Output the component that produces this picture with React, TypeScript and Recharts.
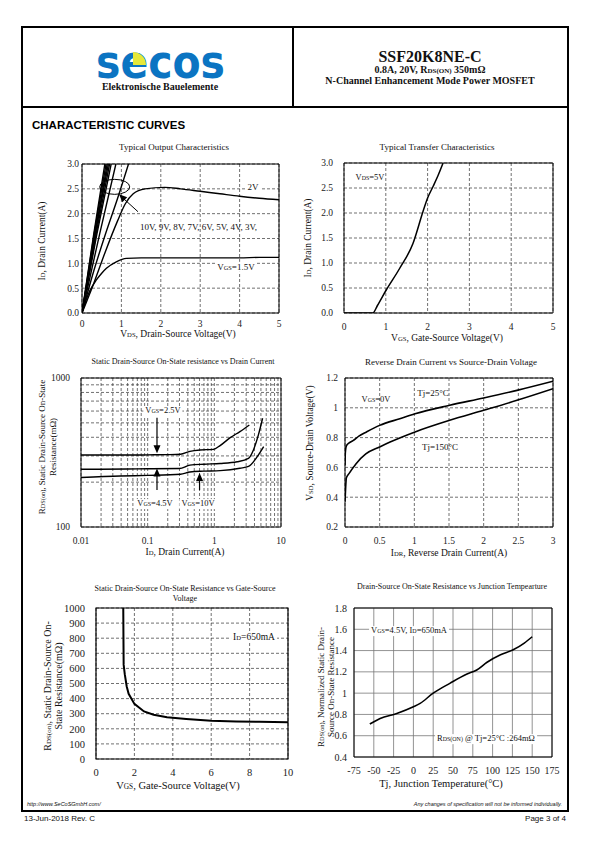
import React from "react";
import {
  LineChart,
  Line,
  XAxis,
  YAxis,
  CartesianGrid,
  ReferenceArea,
  ReferenceLine,
  ReferenceDot,
} from "recharts";

const SERIF = '"Liberation Serif", "Times New Roman", serif';
const SANS = '"Liberation Sans", Arial, sans-serif';

// ---------- Typical Output Characteristics  [Vds (V), Id (A)] ----------
const outVgs10 = [[0, 0], [0.3, 1.6], [0.58, 3.0]];
const outVgs9 = [[0, 0], [0.31, 1.6], [0.61, 3.0]];
const outVgs8 = [[0, 0], [0.33, 1.6], [0.64, 3.0]];
const outVgs7 = [[0, 0], [0.34, 1.6], [0.67, 3.0]];
const outVgs6 = [[0, 0], [0.36, 1.6], [0.7, 3.0]];
const outVgs5 = [[0, 0], [0.38, 1.6], [0.74, 3.0]];
const outVgs4 = [[0, 0], [0.45, 1.6], [0.86, 3.0]];
const outVgs3 = [[0, 0], [0.3, 0.85], [0.6, 1.6], [0.9, 2.3], [1.18, 3.0]];
const outVgs2 = [
  [0, 0], [0.3, 0.6], [0.6, 1.25], [0.9, 1.85], [1.1, 2.2], [1.3, 2.4],
  [1.6, 2.5], [2.1, 2.53], [2.5, 2.5], [3, 2.45], [3.5, 2.4], [4, 2.35],
  [4.5, 2.31], [5, 2.28],
];
const outVgs15 = [
  [0, 0], [0.1, 0.25], [0.2, 0.45], [0.36, 0.66], [0.5, 0.8], [0.62, 0.9],
  [0.87, 1.03], [1.13, 1.1], [1.5, 1.11], [2, 1.11], [3, 1.11], [4, 1.11],
  [4.5, 1.12], [5, 1.12],
];
const outVdsTicks = [0, 1, 2, 3, 4, 5];
const outIdTicks = [0, 0.5, 1, 1.5, 2, 2.5, 3];

// ---------- Typical Transfer Characteristics  [Vgs (V), Id (A)] ----------
const transfer = [
  [0, 0], [0.5, 0], [0.69, 0], [0.8, 0.15], [1.01, 0.46], [1.33, 0.89],
  [1.65, 1.39], [1.89, 2.03], [2.0, 2.3], [2.13, 2.53], [2.25, 2.75], [2.37, 3.0],
];
const trVgsTicks = [0, 1, 2, 3, 4, 5];
const trIdTicks = [0, 0.5, 1, 1.5, 2, 2.5, 3];

// ---------- Rds(on) vs Drain Current  [Id (A), Rds (mOhm)] ----------
const rdsId25 = [
  [0.01, 304], [0.05, 304], [0.1, 305], [0.2, 306], [0.31, 308], [0.43, 322],
  [0.61, 329], [0.97, 332], [1.22, 352], [1.73, 398], [2.42, 437], [3.35, 484],
];
const rdsId45 = [
  [0.01, 244], [0.05, 245], [0.1, 246], [0.3, 247], [0.43, 260], [0.7, 264],
  [1.22, 267], [2.2, 274], [3.25, 289], [3.86, 329], [4.58, 415], [5.3, 537],
];
const rdsId10 = [
  [0.01, 215], [0.039, 220], [0.1, 222], [0.31, 226], [0.43, 234], [0.7, 237],
  [1.22, 239], [2.42, 248], [3.26, 255], [4.3, 292], [5.5, 346],
];
const logIdTicks = [
  0.01, 0.02, 0.03, 0.04, 0.05, 0.06, 0.07, 0.08, 0.09,
  0.1, 0.2, 0.3, 0.4, 0.5, 0.6, 0.7, 0.8, 0.9,
  1, 2, 3, 4, 5, 6, 7, 8, 9, 10,
];
const logIdLabels = [0.01, 0.1, 1, 10];
const logRdsTicks = [100, 200, 300, 400, 500, 600, 700, 800, 900, 1000];
const logRdsLabels = [100, 1000];

// ---------- Reverse Drain Current vs Vsd  [Idr (A), Vsd (V)] ----------
const vsd25 = [
  [0, 0.614], [0.005, 0.7], [0.02, 0.745], [0.06, 0.765], [0.116, 0.78],
  [0.2, 0.81], [0.31, 0.838], [0.5, 0.882], [0.79, 0.927], [1.01, 0.96],
  [1.51, 1.017], [2.0, 1.066], [2.48, 1.117], [3, 1.178],
];
const vsd150 = [
  [0, 0.37], [0.01, 0.47], [0.02, 0.53], [0.06, 0.56], [0.16, 0.625],
  [0.3, 0.69], [0.5, 0.737], [0.65, 0.77], [1.01, 0.838], [1.51, 0.916],
  [2, 0.983], [2.48, 1.05], [3, 1.128],
];
const idrTicks = [0, 0.5, 1, 1.5, 2, 2.5, 3];
const vsdTicks = [0.2, 0.4, 0.6, 0.8, 1, 1.2];

// ---------- Rds(on) vs Vgs  [Vgs (V), Rds (mOhm)] ----------
const rdsVgs = [
  [1.42, 1000], [1.43, 800], [1.44, 625], [1.5, 560], [1.6, 480], [1.7, 432],
  [2.0, 365], [2.5, 315], [3, 293], [3.7, 276], [4.7, 265], [6, 254],
  [7.3, 249], [8.5, 246], [10, 244],
];
const vgsTicks = [0, 2, 4, 6, 8, 10];
const rdsTicks = [0, 100, 200, 300, 400, 500, 600, 700, 800, 900, 1000];

// ---------- Normalized Rds(on) vs Tj  [Tj (C), Rds norm] ----------
const rdsTj = [
  [-55, 0.71], [-42, 0.762], [-21, 0.809], [0, 0.872], [8.5, 0.904],
  [25, 1.0], [46, 1.092], [67, 1.177], [80, 1.218], [93, 1.29],
  [110, 1.36], [126, 1.407], [140, 1.47], [150, 1.53],
];
const tjTicks = [-75, -50, -25, 0, 25, 50, 75, 100, 125, 150, 175];
const normTicks = [0.4, 0.6, 0.8, 1, 1.2, 1.4, 1.6, 1.8];

const pts = (a: number[][]) => a.map(([x, y]) => ({ x, y }));
const tk = (s: number) => ({ fontSize: s, fill: "#222", fontFamily: SERIF });

// filled arrow head, tip at (cx, cy), pointing along `angle` (deg, screen coords)
const arrowHead = (angle: number, len = 8, half = 3.5) => (p: any) => {
  const a = (angle * Math.PI) / 180;
  const poly = [[0, 0], [-len, -half], [-len, half]]
    .map(([px, py]) => [
      p.cx + px * Math.cos(a) - py * Math.sin(a),
      p.cy + px * Math.sin(a) + py * Math.cos(a),
    ])
    .map((q) => q.join(","))
    .join(" ");
  return <polygon points={poly} fill="#000" />;
};

const PAD_L = 60;
const PAD_T = 10;
const PAD_R = 10;
const PAD_B = 30;

function Panel({ x, y, w, h, children }: any) {
  return (
    <div style={{ position: "absolute", left: x - PAD_L, top: y - PAD_T }}>
      <LineChart
        width={w + PAD_L + PAD_R}
        height={h + PAD_T + PAD_B}
        margin={{ top: PAD_T, right: PAD_R, left: 0, bottom: 0 }}
      >
        {children}
      </LineChart>
    </div>
  );
}

function Txt({ x, y, size = 9, anchor = "middle", rotate = 0, bold, italic, bg, family = SERIF, color = "#111", children }: any) {
  const tx = anchor === "middle" ? "-50%" : anchor === "end" ? "-100%" : "0";
  return (
    <div
      style={{
        position: "absolute",
        left: x,
        top: y,
        transform: `translate(${tx},-50%)${rotate ? ` rotate(${rotate}deg)` : ""}`,
        whiteSpace: "nowrap",
        fontSize: size,
        lineHeight: 1.15,
        fontFamily: family,
        fontWeight: bold ? 700 : 400,
        fontStyle: italic ? "italic" : "normal",
        background: bg ? "#fff" : "transparent",
        padding: bg ? "0 2px" : 0,
        color,
      }}
    >
      {children}
    </div>
  );
}

const Sub = ({ children }: any) => <span style={{ fontSize: "0.7em" }}>{children}</span>;

const lineProps = {
  type: "monotone" as const,
  dataKey: "y",
  stroke: "#000",
  dot: false,
  isAnimationActive: false,
};

const outSeries = [outVgs10, outVgs9, outVgs8, outVgs7, outVgs6, outVgs5, outVgs4, outVgs3, outVgs2, outVgs15];

export default function App() {
  return (
    <div
      style={{
        position: "absolute",
        left: 0,
        top: 0,
        width: 595,
        height: 842,
        background: "#fff",
        fontFamily: SERIF,
        color: "#111",
      }}
    >
      {/* page frame */}
      <div style={{ position: "absolute", left: 21, top: 26, width: 548, height: 786, border: "2px solid #000", boxSizing: "border-box" }} />
      <div style={{ position: "absolute", left: 21, top: 106, width: 548, height: 2, background: "#000" }} />
      <div style={{ position: "absolute", left: 292, top: 26, width: 2, height: 81, background: "#000" }} />

      {/* logo */}
      <svg style={{ position: "absolute", left: 90, top: 29, overflow: "visible" }} width={145} height={50}>
        <text x={6} y={49} fontFamily='"DejaVu Sans", sans-serif' fontWeight={700} fontSize={47} fill="#0b74c2" textLength={129} lengthAdjust="spacingAndGlyphs">
          secos
        </text>
        <path d="M43 36 L43 23 A13 13 0 0 1 56 36 Z" fill="#e6e83a" />
      </svg>
      <Txt x={160} y={87} size={10} bold>Elektronische Bauelemente</Txt>

      <Txt x={430} y={57} size={16} bold>SSF20K8NE-C</Txt>
      <Txt x={430} y={70} size={10} bold>
        0.8A, 20V, R<Sub>DS(ON)</Sub> 350mΩ
      </Txt>
      <Txt x={430} y={81} size={10} bold>N-Channel Enhancement Mode Power MOSFET</Txt>

      <Txt x={32} y={126} size={11.5} bold anchor="start" family={SANS} color="#000">
        CHARACTERISTIC CURVES
      </Txt>

      {/* ---------- chart 1 ---------- */}
      <Panel x={82} y={164} w={197} h={149}>
        <CartesianGrid stroke="#333" strokeDasharray="3 2" strokeWidth={0.7} />
        <XAxis type="number" dataKey="x" domain={[0, 5]} ticks={outVdsTicks} allowDataOverflow height={PAD_B}
          tickLine={false} axisLine={false} tickSize={0} tickMargin={7} tick={tk(9.5)} />
        <YAxis type="number" dataKey="y" domain={[0, 3]} ticks={outIdTicks} allowDataOverflow width={PAD_L}
          tickLine={false} axisLine={false} tickSize={0} tickMargin={3} tick={tk(9.5)}
          tickFormatter={(v: number) => v.toFixed(1)} />
        <ReferenceArea x1={0} x2={5} y1={0} y2={3} fill="none" stroke="#000" strokeWidth={1} ifOverflow="visible" />
        {outSeries.map((s, i) => (
          <Line key={i} {...lineProps} data={pts(s)} strokeWidth={1.4} />
        ))}
        <ReferenceDot x={0.83} y={2.54} r={1} ifOverflow="visible"
          shape={(p: any) => <ellipse cx={p.cx} cy={p.cy} rx={15} ry={7.5} fill="none" stroke="#000" strokeWidth={1} />} />
        <ReferenceLine segment={[{ x: 1.42, y: 2.04 }, { x: 0.99, y: 2.35 }]} stroke="#000" strokeWidth={1} />
        <ReferenceDot x={0.94} y={2.39} r={1} ifOverflow="visible" shape={arrowHead(-136)} />
      </Panel>
      <Txt x={174} y={147} size={9}>Typical Output Characteristics</Txt>
      <Txt x={178} y={334} size={9.5}>V<Sub>DS</Sub>, Drain-Source Voltage(V)</Txt>
      <Txt x={42} y={241} size={9.5} rotate={-90}>I<Sub>D</Sub>, Drain Current(A)</Txt>
      <Txt x={253} y={187} size={9} bg>2V</Txt>
      <Txt x={140} y={227} size={9} anchor="start">10V, 9V, 8V, 7V, 6V, 5V, 4V, 3V,</Txt>
      <Txt x={236} y={267} size={9} bg>V<Sub>GS</Sub>=1.5V</Txt>

      {/* ---------- chart 2 ---------- */}
      <Panel x={344} y={163} w={209} h={150}>
        <CartesianGrid stroke="#333" strokeDasharray="3 2" strokeWidth={0.7} />
        <XAxis type="number" dataKey="x" domain={[0, 5]} ticks={trVgsTicks} allowDataOverflow height={PAD_B}
          tickLine={false} axisLine={false} tickSize={0} tickMargin={10} tick={tk(9.5)} />
        <YAxis type="number" dataKey="y" domain={[0, 3]} ticks={trIdTicks} allowDataOverflow width={PAD_L}
          tickLine={false} axisLine={false} tickSize={0} tickMargin={11} tick={tk(9.5)}
          tickFormatter={(v: number) => v.toFixed(1)} />
        <ReferenceArea x1={0} x2={5} y1={0} y2={3} fill="none" stroke="#000" strokeWidth={1} ifOverflow="visible" />
        <Line {...lineProps} data={pts(transfer)} strokeWidth={1.5} />
      </Panel>
      <Txt x={437} y={147} size={9}>Typical Transfer Characteristics</Txt>
      <Txt x={447} y={338} size={9.5}>V<Sub>GS</Sub>, Gate-Source Voltage(V)</Txt>
      <Txt x={308} y={238} size={9.5} rotate={-90}>I<Sub>D</Sub>, Drain Current(A)</Txt>
      <Txt x={370} y={178} size={8.5}>V<Sub>DS</Sub>=5V</Txt>

      {/* ---------- chart 3 ---------- */}
      <Panel x={81} y={378} w={200} h={149}>
        <CartesianGrid stroke="#333" strokeDasharray="3 2" strokeWidth={0.7} />
        <XAxis type="number" dataKey="x" scale="log" domain={[0.01, 10]} ticks={logIdTicks} allowDataOverflow height={PAD_B}
          tickLine={false} axisLine={false} tickSize={0} tickMargin={10.5} tick={tk(9.5)} interval={0}
          tickFormatter={(v: number) => (logIdLabels.includes(v) ? String(v) : "")} />
        <YAxis type="number" dataKey="y" scale="log" domain={[100, 1000]} ticks={logRdsTicks} allowDataOverflow width={PAD_L}
          tickLine={false} axisLine={false} tickSize={0} tickMargin={11} tick={tk(9.5)} interval={0}
          tickFormatter={(v: number) => (logRdsLabels.includes(v) ? String(v) : "")} />
        <ReferenceArea x1={0.01} x2={10} y1={100} y2={1000} fill="none" stroke="#000" strokeWidth={1} ifOverflow="visible" />
        <Line {...lineProps} data={pts(rdsId25)} strokeWidth={1.4} />
        <Line {...lineProps} data={pts(rdsId45)} strokeWidth={1.4} />
        <Line {...lineProps} data={pts(rdsId10)} strokeWidth={1.4} />
        <ReferenceLine segment={[{ x: 0.138, y: 540 }, { x: 0.138, y: 345 }]} stroke="#000" strokeWidth={1.2} />
        <ReferenceDot x={0.138} y={312} r={1} ifOverflow="visible" shape={arrowHead(90)} />
        <ReferenceLine segment={[{ x: 0.138, y: 177 }, { x: 0.138, y: 222 }]} stroke="#000" strokeWidth={1.2} />
        <ReferenceDot x={0.138} y={247} r={1} ifOverflow="visible" shape={arrowHead(-90)} />
        <ReferenceLine segment={[{ x: 0.6, y: 177 }, { x: 0.6, y: 208 }]} stroke="#000" strokeWidth={1.2} />
        <ReferenceDot x={0.6} y={230} r={1} ifOverflow="visible" shape={arrowHead(-90)} />
      </Panel>
      <Txt x={183} y={362} size={8}>Static Drain-Source On-State resistance vs Drain Current</Txt>
      <Txt x={185} y={552} size={9.5}>I<Sub>D</Sub>, Drain Current(A)</Txt>
      <Txt x={42} y={447} size={9} rotate={-90}>R<Sub>DS(on)</Sub>, Static Drain-Source On-State</Txt>
      <Txt x={53} y={447} size={9} rotate={-90}>Resistance(mΩ)</Txt>
      <Txt x={163} y={411} size={8.5} bg>V<Sub>GS</Sub>=2.5V</Txt>
      <Txt x={155} y={504} size={8.5} bg>V<Sub>GS</Sub>=4.5V</Txt>
      <Txt x={198} y={504} size={8.5} bg>V<Sub>GS</Sub>=10V</Txt>

      {/* ---------- chart 4 ---------- */}
      <Panel x={345} y={378} w={208} h={149}>
        <CartesianGrid stroke="#333" strokeDasharray="3 2" strokeWidth={0.7} />
        <XAxis type="number" dataKey="x" domain={[0, 3]} ticks={idrTicks} allowDataOverflow height={PAD_B}
          tickLine={false} axisLine={false} tickSize={0} tickMargin={10.5} tick={tk(9.5)} />
        <YAxis type="number" dataKey="y" domain={[0.2, 1.2]} ticks={vsdTicks} allowDataOverflow width={PAD_L}
          tickLine={false} axisLine={false} tickSize={0} tickMargin={7} tick={tk(9.5)} />
        <ReferenceArea x1={0} x2={3} y1={0.2} y2={1.2} fill="none" stroke="#000" strokeWidth={1} ifOverflow="visible" />
        <Line {...lineProps} data={pts(vsd25)} strokeWidth={1.6} />
        <Line {...lineProps} data={pts(vsd150)} strokeWidth={1.6} />
      </Panel>
      <Txt x={451} y={362} size={9}>Reverse Drain Current vs Source-Drain Voltage</Txt>
      <Txt x={449} y={553} size={9.5}>I<Sub>DR</Sub>, Reverse Drain Current(A)</Txt>
      <Txt x={310} y={443} size={9.5} rotate={-90}>V<Sub>SD</Sub>, Source-Drain Voltage(V)</Txt>
      <Txt x={376} y={400} size={8.5}>V<Sub>GS</Sub>=0V</Txt>
      <Txt x={433} y={393} size={9}>Tj=25°C</Txt>
      <Txt x={440} y={447} size={9}>Tj=150°C</Txt>

      {/* ---------- chart 5 ---------- */}
      <Panel x={96} y={608} w={192} h={151}>
        <CartesianGrid stroke="#333" strokeDasharray="3 2" strokeWidth={0.7} />
        <XAxis type="number" dataKey="x" domain={[0, 10]} ticks={vgsTicks} allowDataOverflow height={PAD_B}
          tickLine={false} axisLine={false} tickSize={0} tickMargin={9.5} tick={tk(10.5)} />
        <YAxis type="number" dataKey="y" domain={[0, 1000]} ticks={rdsTicks} allowDataOverflow width={PAD_L}
          tickLine={false} axisLine={false} tickSize={0} tickMargin={11} tick={tk(10.5)} interval={0} />
        <ReferenceArea x1={0} x2={10} y1={0} y2={1000} fill="none" stroke="#000" strokeWidth={1.2} ifOverflow="visible" />
        <Line {...lineProps} type="linear" data={pts(rdsVgs)} strokeWidth={2} />
      </Panel>
      <Txt x={185} y={589} size={8}>Static Drain-Source On-State Resistance vs Gate-Source</Txt>
      <Txt x={185} y={599} size={8}>Voltage</Txt>
      <Txt x={178} y={786} size={10.5}>V<Sub>GS</Sub>, Gate-Source Voltage(V)</Txt>
      <Txt x={48} y={686} size={10} rotate={-90}>R<Sub>DS(on)</Sub>, Static Drain-Source On-</Txt>
      <Txt x={59} y={686} size={10} rotate={-90}>State Resistance(mΩ)</Txt>
      <Txt x={254} y={637} size={9.5} bg>I<Sub>D</Sub>=650mA</Txt>

      {/* ---------- chart 6 ---------- */}
      <Panel x={354} y={608} w={198} h={149}>
        <CartesianGrid stroke="#777" strokeWidth={0.8} />
        <XAxis type="number" dataKey="x" domain={[-75, 175]} ticks={tjTicks} allowDataOverflow height={PAD_B}
          tickLine={false} axisLine={false} tickSize={0} tickMargin={9.5} tick={tk(10)} interval={0} />
        <YAxis type="number" dataKey="y" domain={[0.4, 1.8]} ticks={normTicks} allowDataOverflow width={PAD_L}
          tickLine={false} axisLine={false} tickSize={0} tickMargin={7} tick={tk(10)} interval={0} />
        <ReferenceArea x1={-75} x2={175} y1={0.4} y2={1.8} fill="none" stroke="#000" strokeWidth={1} ifOverflow="visible" />
        <Line {...lineProps} data={pts(rdsTj)} strokeWidth={1.6} />
      </Panel>
      <Txt x={452} y={587} size={8}>Drain-Source On-State Resistance vs Junction Tempearture</Txt>
      <Txt x={441} y={784} size={10.5}>Tj, Junction Temperature(°C)</Txt>
      <Txt x={321} y={687} size={9} rotate={-90}>R<Sub>DS(on)</Sub>, Normalized Static Drain-</Txt>
      <Txt x={331} y={687} size={9} rotate={-90}>Source On-State Resistance</Txt>
      <Txt x={409} y={631} size={8.5} bg>V<Sub>GS</Sub>=4.5V, I<Sub>D</Sub>=650mA</Txt>
      <Txt x={486} y={739} size={8.5} bg>R<Sub>DS(ON)</Sub> @ Tj=25°C :264mΩ</Txt>

      {/* footer */}
      <Txt x={27} y={804} size={5.5} italic anchor="start" family={SANS}>http://www.SeCoSGmbH.com/</Txt>
      <Txt x={562} y={804} size={5.5} italic anchor="end" family={SANS}>
        Any changes of specification will not be informed individually.
      </Txt>
      <Txt x={24} y={819} size={8} anchor="start" family={SANS}>13-Jun-2018 Rev. C</Txt>
      <Txt x={566} y={819} size={8} anchor="end" family={SANS}>Page 3 of 4</Txt>
    </div>
  );
}
